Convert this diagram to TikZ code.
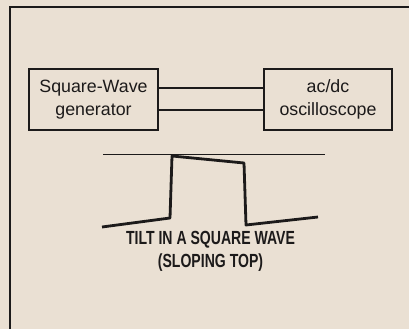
\documentclass[tikz,border=0pt]{standalone}
\usepackage{fontspec}
\setmainfont{Liberation Sans}
\definecolor{paper}{RGB}{234,224,211}
\definecolor{ink}{RGB}{28,26,26}
\begin{document}
\begin{tikzpicture}[x=1pt,y=-1pt,
  box/.style={draw=ink,line width=1.4pt,minimum width=129pt,minimum height=61pt,inner sep=0pt,align=center,text=ink,font=\fontsize{17.8}{23}\selectfont},
  wire/.style={draw=ink,line width=2.8pt},
  wave/.style={draw=ink,line width=2.8pt,line join=round},
  frame/.style={draw=ink,line width=1.6pt},
  caption/.style={align=center,text=ink,font=\bfseries\fontsize{19}{23}\selectfont,xscale=0.74}]
\fill[paper] (0,0) rectangle (409,329);
\useasboundingbox (0,0) rectangle (409,329);
% frame
\coordinate (fl) at (10,7);
\coordinate (fr) at (409,7);
\coordinate (fb) at (10,329);
\draw[frame] (fr) -- (fl) -- (fb);
% boxes
\node[box] (gen) at (93.5,99.5) {Square-Wave\\generator};
\node[box,minimum width=128pt] (osc) at (328,99.5) {ac/dc\\oscilloscope};
\draw[wire] ([yshift=11.5pt]gen.east) -- ([yshift=11.5pt]osc.west);
\draw[wire] ([yshift=-10.5pt]gen.east) -- ([yshift=-10.5pt]osc.west);
% reference line
\coordinate (r1) at (103,154);
\coordinate (r2) at (325,154);
\draw[ink,line width=0.9pt] (r1) -- (r2);
% tilted square wave
\draw[wave] (102,227) -- (170,218) -- (172,156) -- (244,163) -- (246,225) -- (318,217);
% caption
\node[caption] (cap) at (210.5,251) {TILT IN A SQUARE WAVE\\(SLOPING TOP)};
\end{tikzpicture}
\end{document}
